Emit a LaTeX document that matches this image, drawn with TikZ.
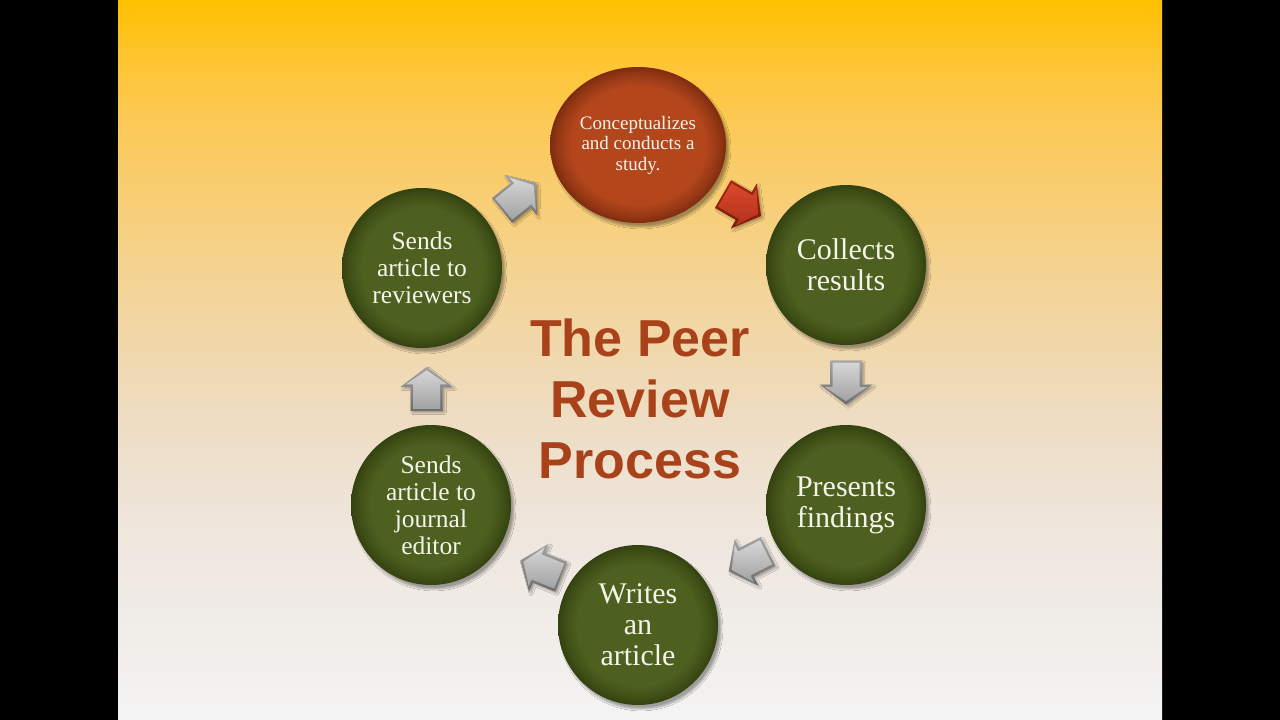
\documentclass[tikz,border=0pt]{standalone}
\usepackage{fontspec}
\setmainfont{Liberation Serif}
\newfontfamily\titlefont{Liberation Sans}
\usetikzlibrary{shapes.geometric,shadows.blur,calc}

\definecolor{bgA}{HTML}{FFC000}
\definecolor{bgB}{HTML}{FEC532}
\definecolor{bgC}{HTML}{FCC955}
\definecolor{bgD}{HTML}{F9CD6E}
\definecolor{bgE}{HTML}{F6D186}
\definecolor{bgF}{HTML}{F3D59C}
\definecolor{bgG}{HTML}{F0D9B0}
\definecolor{bgH}{HTML}{EEDDC3}
\definecolor{bgI}{HTML}{EEE2D2}
\definecolor{bgJ}{HTML}{EFE7DE}
\definecolor{bgK}{HTML}{F0EBE6}
\definecolor{bgL}{HTML}{F2EFEC}
\definecolor{bgM}{HTML}{F4F4F4}

\definecolor{gmain}{HTML}{4D601F}
\definecolor{gdark}{HTML}{3E4E16}
\definecolor{gedge}{HTML}{33420F}
\definecolor{rmain}{HTML}{B4461C}
\definecolor{rdark}{HTML}{933714}
\definecolor{redge}{HTML}{7E2C0E}
\definecolor{txtcol}{HTML}{F4F4EA}
\definecolor{titlecol}{HTML}{A9421A}
\definecolor{agA}{HTML}{A4A4A4}
\definecolor{agB}{HTML}{6C6C6C}
\definecolor{agC}{HTML}{D6D6D6}
\definecolor{agD}{HTML}{A2A2A2}
\definecolor{arA}{HTML}{A22812}
\definecolor{arB}{HTML}{7A1A0A}
\definecolor{arC}{HTML}{DA4A2C}
\definecolor{arD}{HTML}{B3301A}

\pgfdeclareverticalshading{bgshade}{100bp}{color(0bp)=(bgM); color(25bp)=(bgM); color(29.17bp)=(bgL); color(33.33bp)=(bgK); color(37.5bp)=(bgJ); color(41.67bp)=(bgI); color(45.83bp)=(bgH); color(50bp)=(bgG); color(54.17bp)=(bgF); color(58.33bp)=(bgE); color(62.5bp)=(bgD); color(66.67bp)=(bgC); color(70.83bp)=(bgB); color(75bp)=(bgA); color(100bp)=(bgA)}

\pgfdeclareradialshading{greenball}{\pgfpoint{0bp}{0bp}}{color(0bp)=(gmain); color(19bp)=(gmain); color(23bp)=(gdark); color(25bp)=(gedge); color(50bp)=(gedge)}
\pgfdeclareradialshading{redball}{\pgfpoint{0bp}{0bp}}{color(0bp)=(rmain); color(19bp)=(rmain); color(23bp)=(rdark); color(25bp)=(redge); color(50bp)=(redge)}

\tikzset{
  ball/.style={inner sep=0pt, align=center, text=txtcol, shade,
    blur shadow={shadow xshift=3pt, shadow yshift=-4pt, shadow opacity=35, shadow blur steps=6}},
  greennode/.style={ball, circle, minimum size=160pt, shading=greenball,
    font={\fontsize{30}{31}\selectfont}},
  smalltext/.style={font={\fontsize{25.5}{27}\selectfont}},
  topnode/.style={ball, ellipse, minimum width=176pt, minimum height=156pt, shading=redball,
    font={\fontsize{19}{20.5}\selectfont}},
  titlestyle/.style={inner sep=0pt, align=center, text=titlecol,
    font={\titlefont\bfseries\fontsize{52}{61}\selectfont}},
  arrgray outer/.style={top color=agA, bottom color=agB,
    blur shadow={shadow xshift=2pt, shadow yshift=-2pt, shadow opacity=30, shadow blur steps=4}},
  arrgray inner/.style={top color=agC, bottom color=agD},
  arrred outer/.style={top color=arA, bottom color=arB,
    blur shadow={shadow xshift=2pt, shadow yshift=-2pt, shadow opacity=30, shadow blur steps=4}},
  arrred inner/.style={top color=arC, bottom color=arD},
  blockarrow/.pic={
    \shade[arr#1 outer] (-22,-16) -- (2,-16) -- (2,-26) -- (22,0) -- (2,26) -- (2,16) -- (-22,16) -- cycle;
    \shade[arr#1 inner] (-20,-13.5) -- (4.5,-13.5) -- (4.5,-21) -- (18.5,0) -- (4.5,21) -- (4.5,13.5) -- (-20,13.5) -- cycle;
  }
}

\begin{document}
\begin{tikzpicture}[x=1pt, y=-1pt]
\useasboundingbox (0,0) rectangle (1280,720);
\fill[black] (0,0) rectangle (1280,720);
\shade[shading=bgshade] (118,0) rectangle (1162,720);

\node[titlestyle] (title) at (640,399) {The Peer\\Review\\Process};

\node[topnode] (study) at (638,145) {Conceptualizes\\and conducts a\\study.};
\node[greennode] (collect) at (846,265) {Collects\\results};
\node[greennode] (present) at (846,505) {Presents\\findings};
\node[greennode] (write) at (638,625) {Writes\\an\\article};
\node[greennode, smalltext] (editor) at (431,505) {Sends\\article to\\journal\\editor};
\node[greennode, smalltext] (review) at (422,268) {Sends\\article to\\reviewers};

\pic[rotate=-30] at ($(study)!0.5!(collect)$) {blockarrow=red};
\pic[rotate=-90] at ($(collect)!0.49!(present)$) {blockarrow=gray};
\pic[rotate=-153] at ($(present)!0.47!(write)$) {blockarrow=gray};
\pic[rotate=158] at ($(write)!0.47!(editor)$) {blockarrow=gray};
\pic[rotate=90] at ($(editor)!0.49!(review)$) {blockarrow=gray};
\pic[rotate=39] at ($(review)!0.45!(study)+(0,-16)$) {blockarrow=gray};
\end{tikzpicture}
\end{document}
